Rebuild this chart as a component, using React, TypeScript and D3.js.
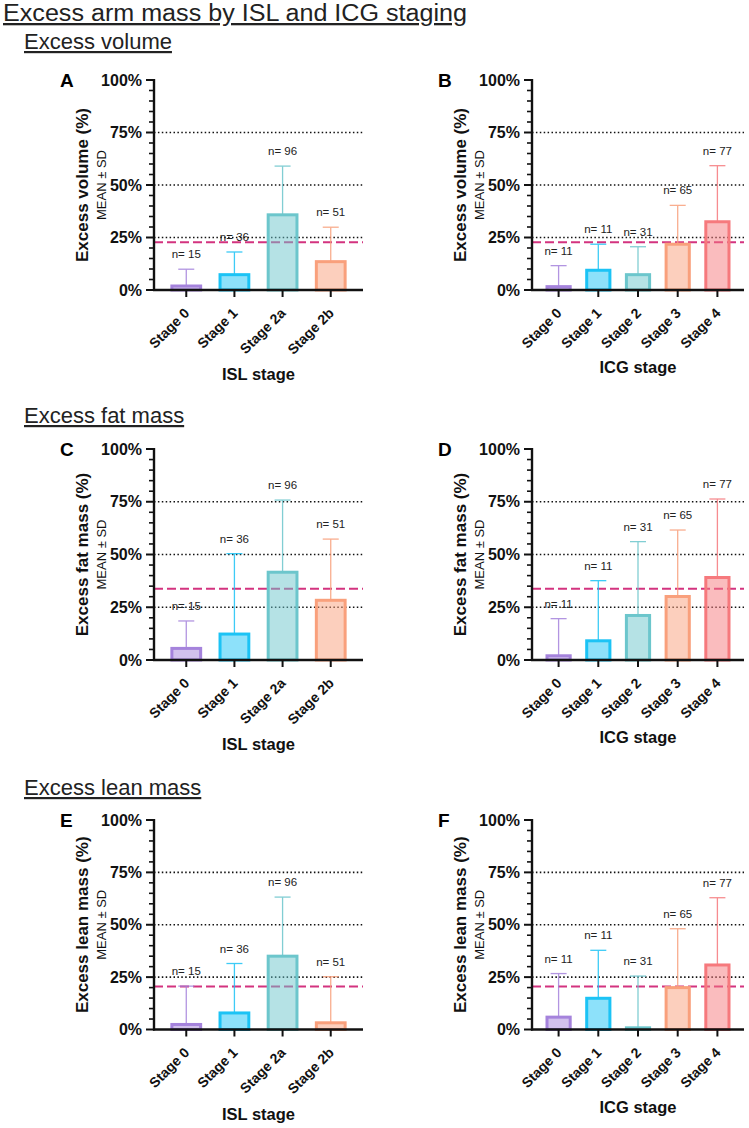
import React from "react";
import * as d3 from "d3";

// ---------- data ----------
const islStages = ["Stage 0", "Stage 1", "Stage 2a", "Stage 2b"];
const icgStages = ["Stage 0", "Stage 1", "Stage 2", "Stage 3", "Stage 4"];
const islN = [15, 36, 96, 51];
const icgN = [11, 11, 31, 65, 77];

const volumeIslMean = [1.9, 7.3, 35.8, 13.5];
const volumeIslSd = [8.0, 10.8, 23.2, 16.4];
const volumeIcgMean = [1.6, 9.4, 7.3, 21.8, 32.5];
const volumeIcgSd = [10.0, 12.4, 13.3, 18.5, 26.7];

const fatIslMean = [5.5, 12.3, 41.6, 28.3];
const fatIslSd = [13.0, 38.1, 34.2, 29.0];
const fatIcgMean = [2.0, 9.1, 21.1, 30.1, 39.1];
const fatIcgSd = [17.6, 28.5, 35.0, 31.5, 37.2];

const leanIslMean = [2.4, 7.9, 35.0, 3.2];
const leanIslSd = [18.3, 23.6, 28.2, 22.0];
const leanIcgMean = [5.9, 14.9, 0.8, 20.0, 30.8];
const leanIcgSd = [20.8, 22.9, 24.7, 28.1, 32.1];

const volumeOverall = 22.7;
const fatOverall = 33.8;
const leanOverall = 20.5;

const yMajorTicks = [0, 25, 50, 75, 100];
const refLevels = [25, 50, 75];

// ---------- styles ----------
const strokeColors = ["#a583dc", "#1cc3f5", "#6cc6cc", "#f9a07c", "#f6797d"];
const FONT = "'Liberation Sans', Arial, Helvetica, sans-serif";
const PINK = "#d3337f";

type PanelProps = {
  letter: string;
  x0: number;
  x1: number;
  y0: number;
  y1: number;
  stages: string[];
  n: number[];
  mean: number[];
  sd: number[];
  overall: number;
  yTitle: string;
  xTitle: string;
  xTitleOffset: number;
};

function Panel(p: PanelProps) {
  const y = d3.scaleLinear().domain([0, 100]).range([p.y1, p.y0]);
  const x = d3
    .scaleBand<string>()
    .domain(p.stages)
    .range([p.x0, p.x1])
    .paddingInner(0.34)
    .paddingOuter(0.34);
  const bw = x.bandwidth();
  const minor = d3.range(0, 101, 5).filter((v) => v % 25 !== 0);
  const midY = (p.y0 + p.y1) / 2;
  const fmt = (v: number) => `${v}%`;

  return (
    <g>
      {/* panel letter */}
      <text x={p.x0 - 94} y={p.y0 + 7} fontSize={19} fontWeight="bold" fontFamily={FONT}>
        {p.letter}
      </text>

      {/* reference dotted lines */}
      {refLevels.map((v) => (
        <line
          key={"r" + v}
          x1={p.x0}
          x2={p.x1}
          y1={y(v)}
          y2={y(v)}
          stroke="#111"
          strokeWidth={1.6}
          strokeDasharray="1.5 2.4"
        />
      ))}
      {/* overall mean dashed */}
      <line
        x1={p.x0}
        x2={p.x1}
        y1={y(p.overall)}
        y2={y(p.overall)}
        stroke={PINK}
        strokeWidth={2}
        strokeDasharray="9 4"
      />

      {/* error bars */}
      {p.stages.map((s, i) => {
        const cx = (x(s) as number) + bw / 2;
        const top = y(p.mean[i] + p.sd[i]);
        return (
          <g key={"e" + s} stroke={strokeColors[i]} strokeWidth={1.3} opacity={0.85}>
            <line x1={cx} x2={cx} y1={y(p.mean[i])} y2={top} />
            <line x1={cx - 8} x2={cx + 8} y1={top} y2={top} />
          </g>
        );
      })}

      {/* bars */}
      {p.stages.map((s, i) => {
        const bx = x(s) as number;
        const top = y(p.mean[i]);
        return (
          <rect
            key={"b" + s}
            x={bx + 1.5}
            y={top}
            width={bw - 3}
            height={Math.max(0, p.y1 - top)}
            fill={strokeColors[i]}
            fillOpacity={0.5}
            stroke={strokeColors[i]}
            strokeWidth={3}
          />
        );
      })}

      {/* n labels */}
      {p.stages.map((s, i) => {
        const cx = (x(s) as number) + bw / 2;
        const top = y(p.mean[i] + p.sd[i]);
        return (
          <text
            key={"n" + s}
            x={cx}
            y={top - 11}
            textAnchor="middle"
            fontSize={11.5}
            fontFamily={FONT}
            fill="#222"
          >
            {`n= ${p.n[i]}`}
          </text>
        );
      })}

      {/* y axis */}
      <line x1={p.x0} x2={p.x0} y1={p.y0 - 1} y2={p.y1 + 1} stroke="#111" strokeWidth={2.4} />
      {yMajorTicks.map((v) => (
        <g key={"yt" + v}>
          <line x1={p.x0 - 8} x2={p.x0} y1={y(v)} y2={y(v)} stroke="#111" strokeWidth={2} />
          <text
            x={p.x0 - 12}
            y={y(v) + 5.5}
            textAnchor="end"
            fontSize={16}
            fontWeight="bold"
            fontFamily={FONT}
            fill="#111"
          >
            {fmt(v)}
          </text>
        </g>
      ))}
      {minor.map((v) => (
        <line key={"ym" + v} x1={p.x0 - 5} x2={p.x0} y1={y(v)} y2={y(v)} stroke="#111" strokeWidth={1.6} />
      ))}

      {/* x axis */}
      <line x1={p.x0 - 1} x2={p.x1} y1={p.y1} y2={p.y1} stroke="#111" strokeWidth={2.4} />
      {p.stages.map((s) => {
        const cx = (x(s) as number) + bw / 2;
        return (
          <g key={"xt" + s}>
            <line x1={cx} x2={cx} y1={p.y1} y2={p.y1 + 7} stroke="#111" strokeWidth={2} />
            <text
              transform={`translate(${cx + 4},${p.y1 + 24}) rotate(-45)`}
              textAnchor="end"
              fontSize={14}
              fontWeight="bold"
              fontFamily={FONT}
              fill="#111"
            >
              {s}
            </text>
          </g>
        );
      })}

      {/* axis titles */}
      <text
        transform={`translate(${p.x0 - 66},${midY}) rotate(-90)`}
        textAnchor="middle"
        fontSize={17}
        fontWeight="bold"
        fontFamily={FONT}
        fill="#111"
      >
        {p.yTitle}
      </text>
      <text
        transform={`translate(${p.x0 - 48},${midY}) rotate(-90)`}
        textAnchor="middle"
        fontSize={13}
        fontFamily={FONT}
        fill="#111"
      >
        MEAN ± SD
      </text>
      <text
        x={(p.x0 + p.x1) / 2}
        y={p.y1 + p.xTitleOffset}
        textAnchor="middle"
        fontSize={16.5}
        fontWeight="bold"
        fontFamily={FONT}
        fill="#111"
      >
        {p.xTitle}
      </text>
    </g>
  );
}

export default function App() {
  const L = { x0: 154, x1: 363 };
  const R = { x0: 532, x1: 744 };
  const rows = [
    { y0: 80, y1: 290 },
    { y0: 449, y1: 660 },
    { y0: 820, y1: 1029.5 },
  ];
  const isl = { stages: islStages, n: islN, xTitle: "ISL stage", xTitleOffset: 90 };
  const icg = { stages: icgStages, n: icgN, xTitle: "ICG stage", xTitleOffset: 83 };

  const headingStyle: React.CSSProperties = { textDecoration: "underline" };

  return (
    <svg
      width={749}
      height={1128}
      style={{ position: "absolute", left: 0, top: 0, background: "#fff" }}
    >
      <rect width={749} height={1128} fill="#fff" />
      <text
        x={3}
        y={21}
        fontSize={23}
        fontFamily={FONT}
        fill="#222"
        textLength={464}
        lengthAdjust="spacingAndGlyphs"
        style={headingStyle}
      >
        Excess arm mass by ISL and ICG staging
      </text>
      <text x={24} y={49} fontSize={22} fontFamily={FONT} fill="#222" style={headingStyle}>
        Excess volume
      </text>
      <text x={24} y={423} fontSize={22} fontFamily={FONT} fill="#222" style={headingStyle}>
        Excess fat mass
      </text>
      <text x={24} y={795} fontSize={22} fontFamily={FONT} fill="#222" style={headingStyle}>
        Excess lean mass
      </text>

      <Panel letter="A" {...L} {...rows[0]} {...isl} mean={volumeIslMean} sd={volumeIslSd} overall={volumeOverall} yTitle="Excess volume (%)" />
      <Panel letter="B" {...R} {...rows[0]} {...icg} mean={volumeIcgMean} sd={volumeIcgSd} overall={volumeOverall} yTitle="Excess volume (%)" />
      <Panel letter="C" {...L} {...rows[1]} {...isl} mean={fatIslMean} sd={fatIslSd} overall={fatOverall} yTitle="Excess fat mass (%)" />
      <Panel letter="D" {...R} {...rows[1]} {...icg} mean={fatIcgMean} sd={fatIcgSd} overall={fatOverall} yTitle="Excess fat mass (%)" />
      <Panel letter="E" {...L} {...rows[2]} {...isl} mean={leanIslMean} sd={leanIslSd} overall={leanOverall} yTitle="Excess lean mass (%)" />
      <Panel letter="F" {...R} {...rows[2]} {...icg} mean={leanIcgMean} sd={leanIcgSd} overall={leanOverall} yTitle="Excess lean mass (%)" />
    </svg>
  );
}
